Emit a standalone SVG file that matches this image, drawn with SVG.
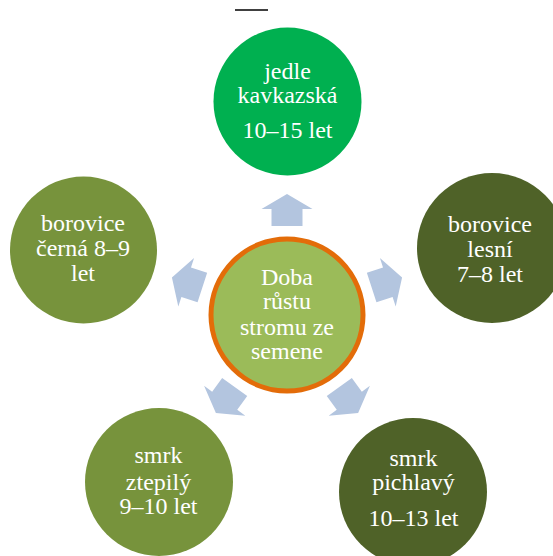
<svg xmlns="http://www.w3.org/2000/svg" xmlns:xlink="http://www.w3.org/1999/xlink" width="553" height="556" viewBox="0 0 553 556">
<style>
.t{font-family:"Liberation Serif","Times New Roman",serif;font-size:24px;fill:#ffffff;text-anchor:middle}
.arr{fill:#B3C5DF}
</style>
<defs>
<path id="arrow" d="M271.5 226 L302.5 226 L302.5 209 L312.5 209 L287 194 L261.5 209 L271.5 209 Z"/>
</defs>
<rect width="553" height="556" fill="#ffffff"/>
<line x1="235" y1="10" x2="268" y2="10" stroke="#000000" stroke-width="1.5"/>
<g id="connectors" class="arr">
<use xlink:href="#arrow" href="#arrow"/>
<use xlink:href="#arrow" href="#arrow" transform="rotate(72 287 315)"/>
<use xlink:href="#arrow" href="#arrow" transform="rotate(144 287 315)"/>
<use xlink:href="#arrow" href="#arrow" transform="rotate(216 287 315)"/>
<use xlink:href="#arrow" href="#arrow" transform="rotate(288 287 315)"/>
</g>
<g id="center">
<circle cx="287" cy="315" r="76" fill="#9BBB59" stroke="#E36C09" stroke-width="5"/>
<text class="t" x="287" y="285">Doba</text>
<text class="t" x="287" y="309">růstu</text>
<text class="t" x="287" y="335">stromu ze</text>
<text class="t" x="287" y="359">semene</text>
</g>
<g id="jedle">
<circle cx="287.5" cy="101.5" r="74" fill="#00B050"/>
<text class="t" x="287.5" y="79">jedle</text>
<text class="t" x="287.5" y="103">kavkazská</text>
<text class="t" x="287.5" y="138">10–15 let</text>
</g>
<g id="borovice-lesni">
<circle cx="492" cy="248" r="75" fill="#4F6228"/>
<text class="t" x="490" y="232">borovice</text>
<text class="t" x="490" y="257">lesní</text>
<text class="t" x="490" y="282">7–8 let</text>
</g>
<g id="smrk-pichlavy">
<circle cx="413" cy="492" r="74" fill="#4F6228"/>
<text class="t" x="413.5" y="466">smrk</text>
<text class="t" x="413.5" y="490">pichlavý</text>
<text class="t" x="413.5" y="526">10–13 let</text>
</g>
<g id="smrk-ztepily">
<circle cx="159" cy="482" r="74" fill="#77933C"/>
<text class="t" x="158.5" y="463">smrk</text>
<text class="t" x="158.5" y="490">ztepilý</text>
<text class="t" x="158.5" y="514">9–10 let</text>
</g>
<g id="borovice-cerna">
<circle cx="83.5" cy="250" r="73.5" fill="#77933C"/>
<text class="t" x="83" y="231">borovice</text>
<text class="t" x="83" y="256">černá 8–9</text>
<text class="t" x="83" y="281">let</text>
</g>
</svg>
